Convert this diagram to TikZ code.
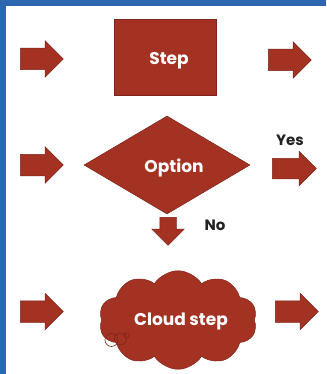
\documentclass[tikz,border=0pt]{standalone}
\usepackage{fontspec}
\setmainfont{Poppins}
\usetikzlibrary{shapes.arrows,shapes.geometric,shapes.symbols}
\definecolor{brick}{HTML}{A43223}
\definecolor{brickedge}{HTML}{7E2418}
\definecolor{frameblue}{HTML}{2E67B1}
\definecolor{labelgray}{HTML}{222222}
\tikzset{
  blk/.style={fill=brick,draw=brickedge,line width=0.5pt},
  barrow/.style={blk,single arrow,single arrow head extend=7.5pt,single arrow head indent=0pt,
    minimum height=43pt,inner xsep=0pt,inner ysep=10.5pt,anchor=tail},
  intext/.style={text=white,font=\bfseries\fontsize{17}{19}\selectfont},
  outtext/.style={text=labelgray,font=\bfseries\fontsize{15}{17}\selectfont,inner sep=0pt},
}
\begin{document}
\begin{tikzpicture}[x=1pt,y=-1pt]
\useasboundingbox (0,0) rectangle (326,374);
\fill[white] (0,0) rectangle (326,374);
\fill[frameblue] (0,0) rectangle (326,6.5);
\fill[frameblue] (0,0) rectangle (6.3,374);
% row 1
\node[barrow] (in1) at (20,59) {};
\node[blk,minimum width=102pt,minimum height=76pt,inner sep=0pt,intext] (step) at (165,57) {\hspace{8pt}\raisebox{-7.5pt}[0pt][0pt]{Step}};
\node[barrow] (out1) at (268,60) {};
% row 2
\node[barrow] (in2) at (20,165) {};
\node[blk,diamond,minimum width=166pt,minimum height=98pt,inner sep=0pt,intext] (opt) at (167,165) {\hspace{14pt}\raisebox{-7pt}[0pt][0pt]{Option}};
\node[barrow,minimum height=44pt,inner ysep=10pt,single arrow head extend=7pt] (yes) at (272,168.5) {};
\node[outtext] (yeslbl) at (290,140) {Yes};
\node[barrow,rotate=270,minimum height=28pt,inner ysep=8pt,single arrow head extend=8pt] (no) at (168,217) {};
\node[outtext] (nolbl) at (215,225) {No};
% row 3
\node[barrow] (in3) at (20,311.5) {};
\node[blk,cloud,cloud puffs=10,cloud puff arc=115,aspect=1.8,minimum width=158pt,minimum height=86pt,inner sep=0pt,intext] (cloud) at (178,320) {\hspace{6pt}\raisebox{-5.5pt}[0pt][0pt]{Cloud step}};
\node[barrow] (out3) at (275,311.5) {};
\draw[brickedge,line width=0.6pt] (111.5,340) circle (6.5) (120.5,339) circle (6) (126.5,335.5) circle (2.7);
\end{tikzpicture}
\end{document}
